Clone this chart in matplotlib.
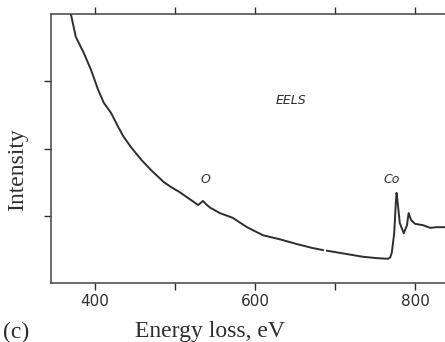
import matplotlib
matplotlib.use("Agg")
import matplotlib.pyplot as plt

# Spectrum (energy loss eV, intensity arbitrary units);
# nan marks the short break in the printed trace near 687 eV
energy = [369, 370, 376, 386, 395, 404, 411, 420, 429, 436, 445, 458, 470, 486, 496, 506,
          518, 529, 532, 535, 539, 544, 556, 572, 590, 610, 631, 652, 672, 685, 687, 690,
          700, 715, 735, 752, 766, 769, 771, 774, 776, 777, 779, 781, 786, 790, 792, 795,
          800, 810, 819, 827, 837, 845, 855]
intensity = [4.02, 3.99, 3.66, 3.42, 3.17, 2.87, 2.68, 2.53, 2.32, 2.17, 2.02, 1.83, 1.68,
             1.50, 1.42, 1.35, 1.25, 1.16, 1.19, 1.22, 1.17, 1.12, 1.04, 0.97, 0.83, 0.71,
             0.65, 0.58, 0.52, 0.49, float("nan"), 0.48, 0.46, 0.43, 0.39, 0.37, 0.36, 0.38,
             0.45, 0.74, 1.19, 1.34, 1.12, 0.89, 0.74, 0.86, 1.04, 0.94, 0.88, 0.86, 0.82,
             0.83, 0.83, 0.82, 0.82]

xticks = [400, 500, 600, 700, 800]
xtick_labels = ["400", "", "600", "", "800"]
yticks = [1, 2, 3]

annotations = [("EELS", 645, 2.72, 9), ("O", 538, 1.54, 9), ("Co", 771, 1.54, 9)]

fig = plt.figure(figsize=(4.45, 3.42), dpi=100)
ax = fig.add_axes([51/445, 59/342, 412/445, 269/342])
ink = "#2e2e2e"
ax.plot(energy, intensity, color=ink, lw=1.4)
ax.set_xlim(345, 860)
ax.set_ylim(0, 4)
ax.set_xticks(xticks)
ax.set_xticklabels(xtick_labels)
ax.set_yticks(yticks)
ax.set_yticklabels([])
ax.tick_params(axis="x", which="both", direction="out", length=5, width=1, colors=ink,
               top=True, labeltop=False, pad=3, labelsize=11)
ax.tick_params(axis="y", direction="out", length=5, width=1, colors=ink)
for s in ax.spines.values():
    s.set_color("#444444")
    s.set_linewidth(1.1)

for txt, x, y, fs in annotations:
    ax.text(x, y, txt, fontsize=fs, style="italic", color=ink, ha="center", va="center",
            family=["DejaVu Sans"])

fig.text(210/445, 1 - 332/342, "Energy loss, eV", family=["Liberation Serif", "DejaVu Serif"],
         fontsize=17, ha="center", va="center", color=ink)
fig.text(16/445, 1 - 332/342, "(c)", family=["Liberation Serif", "DejaVu Serif"],
         fontsize=17, ha="center", va="center", color=ink)
fig.text(18/445, 1 - 170/342, "Intensity", family=["Liberation Serif", "DejaVu Serif"],
         fontsize=17, rotation=90, ha="center", va="center", color=ink)

fig.savefig("out.png", dpi=100)
